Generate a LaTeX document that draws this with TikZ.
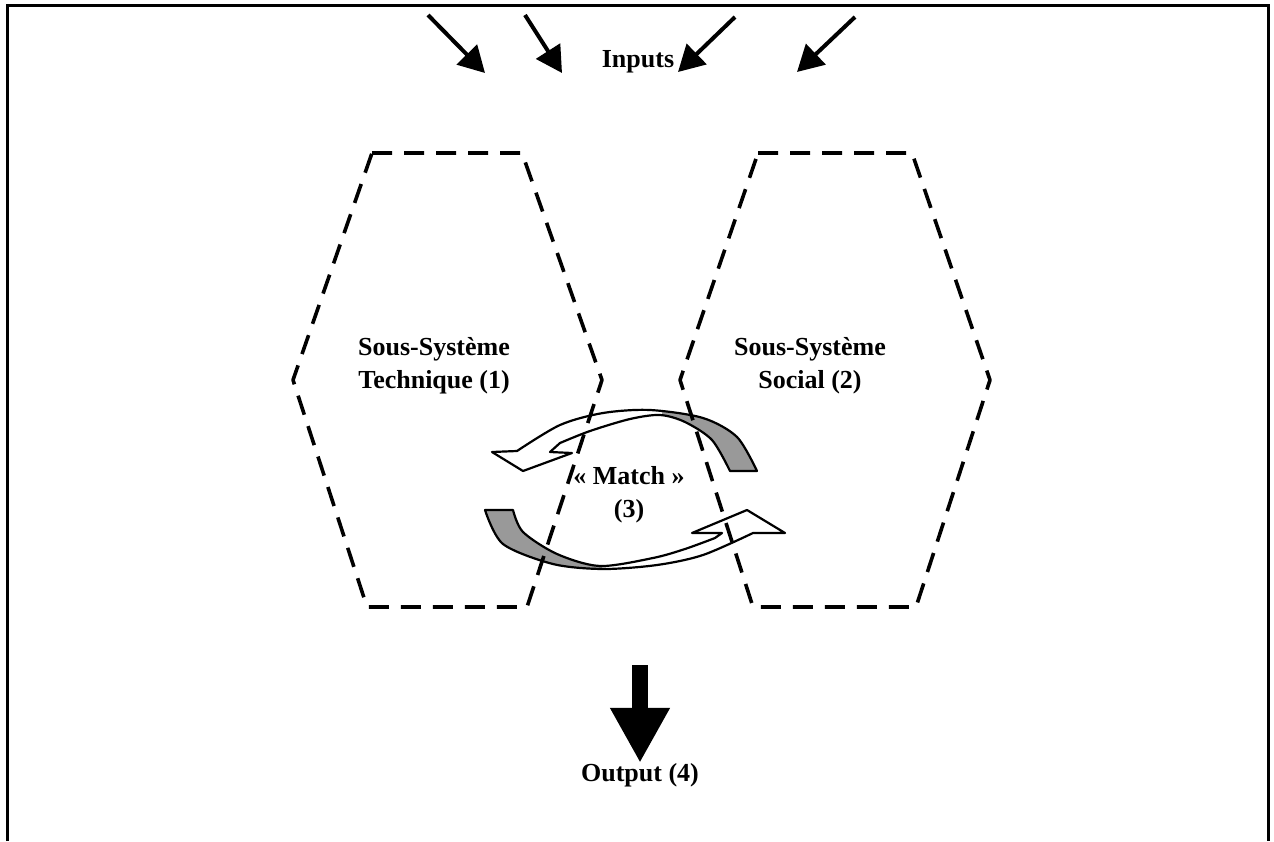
\documentclass[tikz,border=0pt]{standalone}
\usepackage{fontspec}
\setmainfont{Liberation Serif}
\usetikzlibrary{arrows.meta}
\begin{document}
\begin{tikzpicture}[x=0.5pt,y=-0.5pt,
  lbl/.style={font=\fontsize{13}{16.5}\selectfont\bfseries, align=center, inner sep=0pt},
  hexa/.style={line width=1.8pt, dash pattern=on 10pt off 6pt, line join=round},
  inarrow/.style={line width=2pt, -{Triangle[length=13pt,width=14pt]}},
  outarrow/.style={line width=8pt, -{Triangle[length=27.5pt,width=28pt]}},
  ribbon/.style={line width=1.1pt, line join=round},
  shade/.style={fill=black!40},
]
\useasboundingbox (0,0) rectangle (1274,841);
% frame
\draw[line width=1.5pt] (7,841) -- (7,5) -- (1268,5) -- (1268,841);

% curved arrows (match)
\def\upperribbon{(492,452) -- (517,451)
  -- plot[smooth] coordinates {(517,451) (560,425) (603,413) (650,410) (703,418) (737,437) (757,471)}
  -- (730,471)
  -- plot[smooth] coordinates {(730,471) (712,440) (685,422) (660,415) (630,419) (590,431) (560,443)}
  -- (550,452) -- (572,453) -- (523,471) -- cycle}
\def\lowerribbon{(485,510) -- (513,510)
  -- plot[smooth] coordinates {(513,510) (523,532) (557,554) (600,566) (653,558) (685,549) (715,538)}
  -- (722,533) -- (692,533) -- (747,510) -- (785,533) -- (753,533)
  -- plot[smooth] coordinates {(753,533) (703,555) (657,565) (603,569) (553,564) (503,544) (485,510)}
  -- cycle}
\fill[white] \upperribbon;
\begin{scope}
  \clip (662,380) rectangle (800,490);
  \fill[shade] \upperribbon;
\end{scope}
\draw[ribbon] \upperribbon;
\fill[white] \lowerribbon;
\begin{scope}
  \clip (470,490) rectangle (602,590);
  \fill[shade] \lowerribbon;
\end{scope}
\draw[ribbon] \lowerribbon;

% hexagons
\draw[hexa] (372,153) -- (522,153) -- (602,380) -- (527,607) -- (367,607) -- (293,380) -- cycle;
\draw[hexa] (758,153) -- (912,153) -- (990,380) -- (916,607) -- (753,607) -- (680,380) -- cycle;

% texts
\node[lbl] (tech) at (434,366) {Sous-Système\\Technique (1)};
\node[lbl] (soc) at (810,366) {Sous-Système\\Social (2)};
\node[lbl] (match) at (629,495) {« Match »\\(3)};
\node[lbl] (inputs) at (638,62) {Inputs};
\node[lbl] (output) at (640,775) {Output (4)};

% input arrows
\coordinate (s1) at (428,15); \coordinate (e1) at (485,73);
\coordinate (s2) at (525,15); \coordinate (e2) at (562,73);
\coordinate (s3) at (735,17); \coordinate (e3) at (678,72);
\coordinate (s4) at (855,17); \coordinate (e4) at (797,72);
\draw[inarrow] (s1) -- (e1);
\draw[inarrow] (s2) -- (e2);
\draw[inarrow] (s3) -- (e3);
\draw[inarrow] (s4) -- (e4);

% output arrow
\coordinate (otop) at (640,665);
\draw[outarrow] (otop) -- (output.north);
\end{tikzpicture}
\end{document}
